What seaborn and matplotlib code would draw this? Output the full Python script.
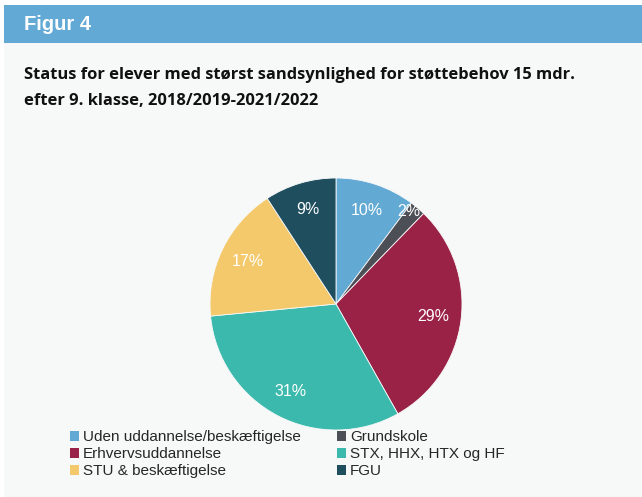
import matplotlib
matplotlib.use("Agg")
import matplotlib.pyplot as plt
import seaborn as sns
import numpy as np
from matplotlib.patches import Rectangle, Patch

# data (percent, rounded as shown)
categories = ["Uden uddannelse/beskæftigelse", "Grundskole", "Erhvervsuddannelse",
              "STX, HHX, HTX og HF", "STU & beskæftigelse", "FGU"]
shares = [10, 2, 29, 31, 17, 9]
colors = ["#62a9d4", "#4d4f56", "#9a2247", "#3cb9ad", "#f4c96b", "#1f4e5f"]

sns.set_style("white")
plt.rcParams['font.family'] = ['Liberation Sans', 'DejaVu Sans']

fig = plt.figure(figsize=(6.42, 4.97), dpi=100)
W, H = 642, 497

# page background + header band
fig.patches.append(Rectangle((4 / W, 0), 1, 1 - 43 / H, transform=fig.transFigure,
                             facecolor="#f7f9f9", edgecolor="none", zorder=-2))
fig.patches.append(Rectangle((4 / W, 1 - 43 / H), 1, 38 / H, transform=fig.transFigure,
                             facecolor="#63a9d5", edgecolor="none", zorder=-2))
fig.text(24 / W, 1 - 24 / H, "Figur 4", color="white", fontsize=14.5, fontweight="bold",
         va="center", ha="left")
fig.text(24 / W, 1 - 75 / H, "Status for elever med størst sandsynlighed for støttebehov 15 mdr.",
         fontsize=11.85, fontweight="bold", va="center", ha="left", color="#111111",
         family=["Open Sans", "DejaVu Sans"])
fig.text(24 / W, 1 - 101 / H, "efter 9. klasse, 2018/2019-2021/2022",
         fontsize=11.85, fontweight="bold", va="center", ha="left", color="#111111",
         family=["Open Sans", "DejaVu Sans"])

# pie
cx, cy, r = 336, 304, 126
ax = fig.add_axes([(cx - r) / W, (H - cy - r) / H, 2 * r / W, 2 * r / H])
ax.set_facecolor("none")
ax.set_zorder(2)
wedges, texts = ax.pie(shares, colors=colors, startangle=90, counterclock=False,
                       labels=[f"{v}%" for v in shares], labeldistance=0.78,
                       wedgeprops=dict(linewidth=0.6, edgecolor="#f7f9f9"),
                       textprops=dict(color="white", fontsize=11.5, ha="center", va="center"))
# the thin slice gets its label pushed out towards the rim
for w, t, v in zip(wedges, texts, shares):
    if v < 5:
        mid = np.deg2rad((w.theta1 + w.theta2) / 2)
        t.set_position((0.94 * np.cos(mid) - 0.03, 0.94 * np.sin(mid) + 0.02))
ax.set_xlim(-1, 1)
ax.set_ylim(-1, 1)
ax.set_aspect("equal")
ax.axis("off")

# legend, filled row by row
order = [0, 2, 4, 1, 3, 5]
handles = [Patch(facecolor=colors[i], edgecolor="none") for i in order]
labels = [categories[i] for i in order]
fig.legend(handles, labels, ncol=2, loc="upper left",
           bbox_to_anchor=(64 / W, 1 - 424 / H), frameon=False, fontsize=11,
           handlelength=0.6, handleheight=0.6, handletextpad=0.25,
           columnspacing=2.35, labelspacing=0.2, borderaxespad=0)

fig.savefig("out.png", dpi=100)
